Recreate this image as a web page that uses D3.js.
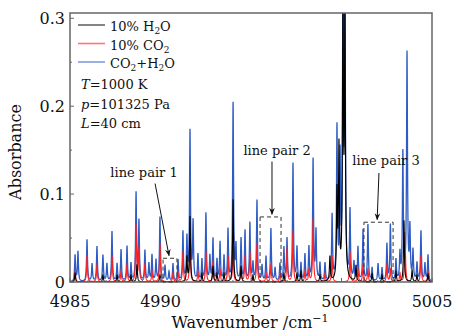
<!DOCTYPE html>
<html>
<head>
<meta charset="utf-8">
<script src="https://cdn.jsdelivr.net/npm/d3@7"></script>
<style>
  html, body { margin: 0; padding: 0; background: #fff; }
  svg text { font-family: "DejaVu Serif", "Liberation Serif", serif; fill: #111; }
</style>
</head>
<body>
<div id="chart"></div>
<script>
// axis settings
const wnDomain = [4985, 5005];
const absDomain = [0, 0.306];
const xTicks = [4985, 4990, 4995, 5000, 5005];
const yTicks = [0, 0.1, 0.2, 0.3];
const yTickLabels = ["0", "0.1", "0.2", "0.3"];

// line lists: [wavenumber, peak absorbance]
const mixLines = [
  [4985.28, 0.030], [4985.44, 0.034], [4985.94, 0.048], [4986.22, 0.020], [4986.49, 0.040],
  [4986.82, 0.030], [4987.04, 0.020], [4987.32, 0.057], [4987.60, 0.020], [4987.82, 0.036],
  [4988.15, 0.040], [4988.37, 0.020], [4988.65, 0.100], [4988.81, 0.068], [4989.14, 0.035],
  [4989.36, 0.020], [4989.53, 0.030], [4989.75, 0.024], [4989.97, 0.073], [4990.25, 0.018],
  [4990.47, 0.011], [4990.69, 0.020], [4990.97, 0.024], [4991.24, 0.056], [4991.46, 0.048],
  [4991.63, 0.170], [4991.80, 0.066], [4992.07, 0.030], [4992.29, 0.024], [4992.51, 0.077],
  [4992.73, 0.028], [4992.90, 0.048], [4993.12, 0.024], [4993.29, 0.044], [4993.51, 0.028],
  [4993.73, 0.058], [4994.01, 0.202], [4994.17, 0.038], [4994.45, 0.048], [4994.67, 0.057],
  [4994.94, 0.066], [4995.11, 0.020], [4995.33, 0.092], [4995.61, 0.018], [4995.83, 0.028],
  [4996.10, 0.060], [4996.33, 0.015], [4996.60, 0.020], [4996.82, 0.038], [4996.99, 0.048],
  [4997.32, 0.134], [4997.54, 0.038], [4997.76, 0.020], [4997.98, 0.030], [4998.20, 0.038],
  [4998.43, 0.138], [4998.59, 0.056], [4998.81, 0.020], [4999.09, 0.020], [4999.48, 0.074],
  [4999.75, 0.172], [4999.92, 0.135], [5000.08, 0.330], [5000.19, 0.320], [5000.47, 0.078],
  [5000.69, 0.020], [5000.91, 0.038], [5001.19, 0.058], [5001.46, 0.064], [5001.69, 0.015],
  [5002.02, 0.020], [5002.24, 0.015], [5002.51, 0.042], [5002.70, 0.064], [5003.01, 0.024],
  [5003.23, 0.030], [5003.39, 0.145], [5003.62, 0.258], [5003.78, 0.058], [5003.95, 0.034],
  [5004.17, 0.020], [5004.39, 0.057], [5004.61, 0.020], [5004.78, 0.030]
];
const co2Lines = [
  [4985.28, 0.012], [4985.94, 0.030], [4986.49, 0.020], [4987.32, 0.030], [4987.82, 0.012],
  [4988.15, 0.020], [4988.65, 0.064], [4988.81, 0.038], [4989.14, 0.020], [4989.53, 0.012],
  [4989.97, 0.044], [4990.69, 0.010], [4990.97, 0.010], [4991.24, 0.034], [4991.63, 0.050],
  [4992.07, 0.012], [4992.51, 0.034], [4992.90, 0.024], [4993.29, 0.015], [4993.73, 0.030],
  [4994.01, 0.040], [4994.45, 0.015], [4994.67, 0.030], [4994.94, 0.034], [4995.33, 0.044],
  [4995.83, 0.010], [4996.10, 0.020], [4996.60, 0.010], [4996.99, 0.038], [4997.32, 0.058],
  [4997.98, 0.012], [4998.20, 0.015], [4998.43, 0.072], [4999.09, 0.010], [4999.48, 0.030],
  [5000.47, 0.034], [5000.91, 0.015], [5001.19, 0.020], [5001.46, 0.015], [5002.51, 0.020],
  [5002.70, 0.015], [5003.23, 0.010], [5003.51, 0.057], [5004.39, 0.030], [5004.78, 0.012]
];
const h2oLines = [
  [4985.28, 0.010], [4986.82, 0.008], [4987.60, 0.008], [4988.37, 0.008], [4988.70, 0.020],
  [4989.97, 0.008], [4991.46, 0.028], [4991.63, 0.074], [4992.29, 0.010], [4992.90, 0.018],
  [4993.12, 0.010], [4993.51, 0.010], [4994.01, 0.094], [4994.45, 0.018], [4995.11, 0.008],
  [4996.82, 0.010], [4997.54, 0.010], [4997.76, 0.012], [4998.81, 0.008], [4999.36, 0.028],
  [4999.75, 0.097], [4999.86, 0.148], [5000.08, 0.320], [5000.19, 0.300], [5000.80, 0.018],
  [5001.69, 0.009], [5002.24, 0.008], [5003.01, 0.012], [5003.45, 0.070], [5003.90, 0.013],
  [5004.17, 0.008], [5004.78, 0.009]
];

const legendItems = [
  { color: "#000000", parts: [["10% H", 0], ["2", 1], ["O", 0]] },
  { color: "#ff2020", parts: [["10% CO", 0], ["2", 1]] },
  { color: "#2f5cc4", parts: [["CO", 0], ["2", 1], ["+H", 0], ["2", 1], ["O", 0]] }
];
const conditions = [
  [["T", 1], ["=1000 K", 0]],
  [["p", 1], ["=101325 Pa", 0]],
  [["L", 1], ["=40 cm", 0]]
];
// annotation boxes [wn0, wn1, top], label at [wn, abs], arrow [wn0, a0, wn1, a1]
const pairs = [
  { label: "line pair 1", box: [4990.14, 4990.91, 0.027], at: [4989.09, 0.119], arrow: [4989.70, 0.112, 4990.47, 0.030] },
  { label: "line pair 2", box: [4995.50, 4996.66, 0.074], at: [4996.44, 0.144], arrow: [4996.16, 0.137, 4996.16, 0.077] },
  { label: "line pair 3", box: [5001.24, 5002.85, 0.068], at: [5002.46, 0.133], arrow: [5002.07, 0.124, 5001.97, 0.071] }
];

const W = 454, H = 331;
const m = { left: 70, right: 22, top: 13, bottom: 49 };

const svg = d3.select("#chart").append("svg").attr("width", W).attr("height", H);
const x = d3.scaleLinear().domain(wnDomain).range([m.left, W - m.right]);
const y = d3.scaleLinear().domain(absDomain).range([H - m.bottom, m.top]);

// lorentz half width, cm-1
const gamma = 0.03;
function spectrum(lines) {
  const pts = [];
  for (let i = 0; i <= 4000; i++) {
    const nu = wnDomain[0] + i * 0.005;
    let a = 0;
    for (const [c, p] of lines) {
      const d = nu - c;
      a += p * gamma * gamma / (d * d + gamma * gamma);
    }
    pts.push([nu, a]);
  }
  return pts;
}

svg.append("clipPath").attr("id", "plotclip")
  .append("rect")
  .attr("x", m.left).attr("y", m.top)
  .attr("width", W - m.left - m.right).attr("height", H - m.top - m.bottom);

const line = d3.line().x(d => x(d[0])).y(d => y(d[1]));
const plot = svg.append("g").attr("clip-path", "url(#plotclip)");
[[mixLines, "#2f5cc4", 1.3], [co2Lines, "#ff2020", 1.1], [h2oLines, "#000000", 1.1]].forEach(([lines, col, sw]) => {
  plot.append("path")
    .datum(spectrum(lines))
    .attr("fill", "none")
    .attr("stroke", col)
    .attr("stroke-width", sw)
    .attr("d", line);
});

// frame
svg.append("rect")
  .attr("x", m.left).attr("y", m.top)
  .attr("width", W - m.left - m.right).attr("height", H - m.top - m.bottom)
  .attr("fill", "none").attr("stroke", "#666").attr("stroke-width", 1.5);

// ticks pointing inward
const ax = svg.append("g");
d3.range(0, 0.301, 0.05).forEach((v, i) => {
  const len = i % 2 === 0 ? 4 : 2;
  ax.append("line").attr("x1", m.left).attr("x2", m.left + len)
    .attr("y1", y(v)).attr("y2", y(v)).attr("stroke", "#666");
});
d3.range(4985, 5005.1, 1).forEach(v => {
  const len = v % 5 === 0 ? 4 : 2;
  ax.append("line").attr("x1", x(v)).attr("x2", x(v))
    .attr("y1", y(0)).attr("y2", y(0) - len).attr("stroke", "#666");
});

// tick labels
yTicks.forEach((v, i) => {
  svg.append("text").attr("x", m.left - 5).attr("y", y(v) + 6)
    .attr("text-anchor", "end").style("font-size", "16px").text(yTickLabels[i]);
});
xTicks.forEach(v => {
  svg.append("text").attr("x", x(v)).attr("y", 307)
    .attr("text-anchor", "middle").style("font-size", "16px").text(v);
});

// axis titles
const xt = svg.append("text").attr("x", 250).attr("y", 328)
  .attr("text-anchor", "middle").style("font-size", "16px");
xt.append("tspan").text("Wavenumber /cm");
xt.append("tspan").attr("dy", -6).style("font-size", "11px").text("−1");

svg.append("text")
  .attr("transform", "translate(21,152) rotate(-90)")
  .attr("text-anchor", "middle").style("font-size", "16px").text("Absorbance");

// legend
legendItems.forEach((it, i) => {
  const yy = 25 + i * 18.5;
  svg.append("line").attr("x1", 78).attr("x2", 105).attr("y1", yy).attr("y2", yy)
    .attr("stroke", it.color).attr("stroke-width", 1.6).attr("opacity", 0.6);
  const t = svg.append("text").attr("x", 110).attr("y", yy + 6).style("font-size", "13px");
  let prevSub = false;
  it.parts.forEach(([s, sub]) => {
    if (sub) t.append("tspan").attr("dy", 3).style("font-size", "9px").text(s);
    else t.append("tspan").attr("dy", prevSub ? -3 : 0).text(s);
    prevSub = !!sub;
  });
});
conditions.forEach((parts, i) => {
  const t = svg.append("text").attr("x", 81).attr("y", 89 + i * 19.5).style("font-size", "13px");
  parts.forEach(([s, it]) => t.append("tspan").style("font-style", it ? "italic" : "normal").text(s));
});

// annotations
svg.append("defs").append("marker")
  .attr("id", "arrowhead").attr("viewBox", "0 0 10 10")
  .attr("refX", 9).attr("refY", 5)
  .attr("markerWidth", 7).attr("markerHeight", 7)
  .attr("orient", "auto")
  .append("path").attr("d", "M0,1 L10,5 L0,9 L3,5 Z").attr("fill", "#111");

pairs.forEach(pr => {
  svg.append("rect")
    .attr("x", x(pr.box[0])).attr("y", y(pr.box[2]))
    .attr("width", x(pr.box[1]) - x(pr.box[0])).attr("height", y(0) - y(pr.box[2]))
    .attr("fill", "none").attr("stroke", "#333").attr("stroke-width", 1)
    .attr("stroke-dasharray", "4,3");
  svg.append("text").attr("x", x(pr.at[0])).attr("y", y(pr.at[1]))
    .attr("text-anchor", "middle").style("font-size", "13px").text(pr.label);
  svg.append("line")
    .attr("x1", x(pr.arrow[0])).attr("y1", y(pr.arrow[1]))
    .attr("x2", x(pr.arrow[2])).attr("y2", y(pr.arrow[3]))
    .attr("stroke", "#111").attr("stroke-width", 1)
    .attr("marker-end", "url(#arrowhead)");
});
</script>
</body>
</html>
